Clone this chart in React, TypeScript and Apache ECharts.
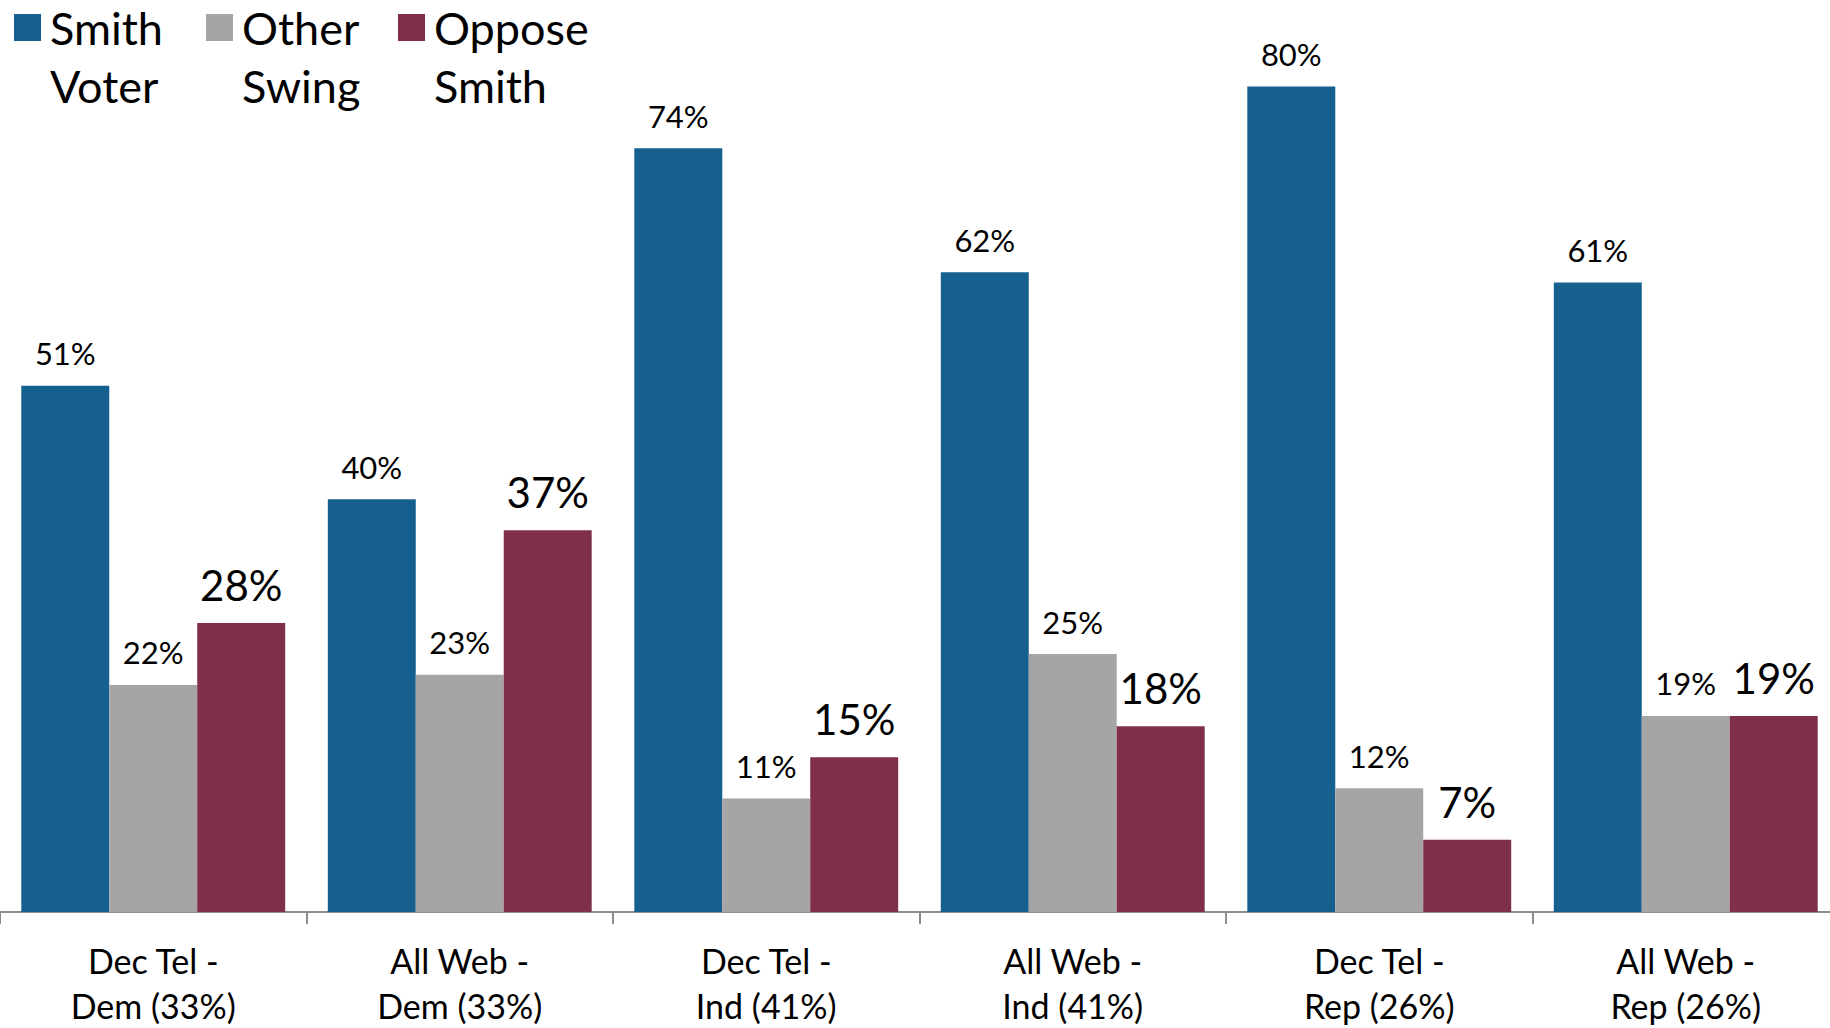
import React, { useEffect, useRef } from "react";
import * as echarts from "echarts";

const categories = [
  "Dec Tel -\nDem (33%)",
  "All Web -\nDem (33%)",
  "Dec Tel -\nInd (41%)",
  "All Web -\nInd (41%)",
  "Dec Tel -\nRep (26%)",
  "All Web -\nRep (26%)",
];
const seriesNames = ["Smith\nVoter", "Other\nSwing", "Oppose\nSmith"];
const smithVoter = [51, 40, 74, 62, 80, 61];
const otherSwing = [22, 23, 11, 25, 12, 19];
const opposeSmith = [28, 37, 15, 18, 7, 19];
const colors = ["#15608F", "#A5A5A5", "#802F4B"];

const FONT = "Lato";

export default function App() {
  const ref = useRef<HTMLDivElement>(null);
  useEffect(() => {
    document.documentElement.style.overflow = "hidden";
    document.body.style.overflow = "hidden";
    const chart = echarts.init(ref.current!, null, { renderer: "svg" });
    const mkSeries = (name: string, data: number[], color: string, big: boolean) => ({
      name,
      type: "bar",
      data,
      barGap: "0%",
      barCategoryGap: "13.9%",
      itemStyle: { color },
      label: {
        show: true,
        position: "top",
        distance: 17,
        formatter: "{c}%",
        color: "#000",
        fontFamily: FONT,
        fontSize: big ? 42 : 31,
      },
    });
    chart.setOption({
      animation: false,
      color: colors,
      legend: {
        left: 9,
        top: -64.5,
        icon: "rect",
        itemWidth: 27,
        itemHeight: 27,
        itemGap: 14,
        data: seriesNames,
        formatter: (name: string) => "\n" + name,
        textStyle: {
          fontFamily: FONT,
          fontSize: 45,
          lineHeight: 58,
          color: "#000",
          width: 142,
          padding: [0, 0, 0, 4],
        },
      },
      grid: { left: 0, right: 1, top: 86.4, bottom: 111 },
      xAxis: {
        type: "category",
        data: categories,
        axisLine: { lineStyle: { color: "#8C8C8C", width: 2 } },
        axisTick: { show: true, length: 12, lineStyle: { color: "#8C8C8C", width: 2 } },
        axisLabel: {
          interval: 0,
          margin: 26,
          fontFamily: FONT,
          fontSize: 34,
          lineHeight: 45,
          color: "#000",
        },
      },
      yAxis: {
        type: "value",
        min: 0,
        max: 80,
        show: false,
        splitLine: { show: false },
      },
      series: [
        mkSeries(seriesNames[0], smithVoter, colors[0], false),
        mkSeries(seriesNames[1], otherSwing, colors[1], false),
        mkSeries(seriesNames[2], opposeSmith, colors[2], true),
      ],
    });
    return () => chart.dispose();
  }, []);
  return (
    <div
      ref={ref}
      style={{ position: "absolute", left: 0, top: 0, width: 1840, height: 1028, background: "#fff" }}
    />
  );
}
